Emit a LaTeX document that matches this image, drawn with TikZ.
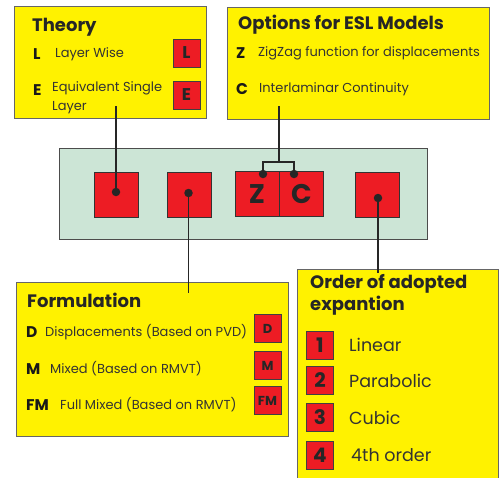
\documentclass[tikz,border=0pt]{standalone}
\usepackage{fontspec}
\setmainfont{Poppins}
\usetikzlibrary{positioning}
\definecolor{boxyellow}{HTML}{FFF200}
\definecolor{keyred}{HTML}{ED1C24}
\definecolor{panelgreen}{HTML}{CCE5D6}

\begin{document}
\begin{tikzpicture}[x=1pt,y=-1pt,
	panel/.style={rectangle,draw=black!60,line width=0.9pt,fill=boxyellow,inner sep=0pt},
	tray/.style={rectangle,draw=black!70,line width=0.9pt,fill=panelgreen,inner sep=0pt},
	key/.style={rectangle,draw=black!75,line width=0.9pt,fill=keyred,inner sep=0pt,minimum width=27pt,minimum height=28pt,text=black!85},
	slot/.style={rectangle,draw=black!80,line width=0.9pt,fill=keyred,inner sep=0pt,minimum width=44pt,minimum height=45pt,text=black!85,font=\bfseries\fontsize{27}{27}\selectfont},
	heading/.style={anchor=west,inner sep=0pt,text=black!85,font=\bfseries\fontsize{18}{22}\selectfont},
	letter/.style={anchor=west,inner sep=0pt,text=black!90,font=\bfseries\fontsize{15.5}{15.5}\selectfont},
	item/.style={anchor=west,inner sep=0pt,text=black!80,font=\fontsize{13}{19}\selectfont},
	level/.style={anchor=west,inner sep=0pt,text=black!80,font=\fontsize{17.5}{17.5}\selectfont},
	link/.style={line width=1.3pt,black!85},
	pin/.style={circle,fill=black!85,inner sep=0pt,minimum size=8.5pt}
	]
\clip (0,0) rectangle (501,477);

% the four yellow boxes
\node[panel,minimum width=192pt,minimum height=112pt](theory) at (110,62) {};
\node[panel,minimum width=262pt,minimum height=112pt](opts) at (358,63) {};
\node[panel,minimum width=272pt,minimum height=154pt](form) at (152,359) {};
\node[panel,minimum width=201pt,minimum height=220pt](order) at (397.5,379) {};

% green tray with its slots
\node[tray,minimum width=368pt,minimum height=91pt](tray) at (243,193.5) {};
\node[slot](sTh) at (116,194.5) {};
\node[slot](sFo) at (189,194.5) {};
\node[slot](sZ) at (257,194) {Z};
\node[slot](sC) at (301.5,194) {C};
\node[slot](sOr) at (377,194.5) {};

% Theory
\node[heading](thT) at (32,27) {Theory};
\node[letter](thL) at (33,54) {L};
\node[item](thLt) at (55,54) {Layer Wise};
\node[letter](thE) at (33,90) {E};
\node[item,align=left](thEt) at (52,97.5) {Equivalent Single\\Layer};
\node[key,font=\bfseries\fontsize{17}{17}\selectfont](kL) at (186.5,53) {L};
\node[key,font=\bfseries\fontsize{17}{17}\selectfont](kE) at (186.5,95) {E};

% Options for ESL models
\node[heading](opT) at (238,25) {Options for ESL Models};
\node[letter](opZ) at (236,53) {Z};
\node[item](opZt) at (258,53) {ZigZag function for displacements};
\node[letter](opC) at (236,89) {C};
\node[item](opCt) at (259,89) {Interlaminar Continuity};

% Formulation
\node[heading](foT) at (27,300) {Formulation};
\node[letter](foD) at (26,332) {D};
\node[item](foDt) at (45,332) {Displacements (Based on PVD)};
\node[letter](foM) at (26,369) {M};
\node[item](foMt) at (50,369) {Mixed (Based on RMVT)};
\node[letter](foFM) at (26,405) {FM};
\node[item](foFMt) at (60,405) {Full Mixed (Based on RMVT)};
\node[key,font=\bfseries\fontsize{13}{13}\selectfont](kD) at (267.5,328.5) {D};
\node[key,font=\bfseries\fontsize{13}{13}\selectfont](kM) at (267.5,365.5) {M};
\node[key,font=\bfseries\fontsize{13}{13}\selectfont](kFM) at (267.5,400.5) {FM};

% Order of expansion
\node[heading,align=left](orT) at (310,294.5) {Order of adopted\\expantion};
\node[key,font=\bfseries\fontsize{20}{20}\selectfont](n1) at (320,345) {1};
\node[key,font=\bfseries\fontsize{20}{20}\selectfont](n2) at (320,380.5) {2};
\node[key,font=\bfseries\fontsize{20}{20}\selectfont](n3) at (320,417.5) {3};
\node[key,font=\bfseries\fontsize{20}{20}\selectfont](n4) at (320,455) {4};
\node[level](l1) [right=15pt of n1] {Linear};
\node[level](l2) [right=15pt of n2] {Parabolic};
\node[level](l3) [right=15pt of n3] {Cubic};
\node[level](l4) [right=17pt of n4] {4th order};

% pins on the slots
\node[pin](pTh) at (116,192) {};
\node[pin](pFo) at (188.5,193) {};
\node[pin](pZ) at (263,174) {};
\node[pin](pC) at (294,174) {};
\node[pin](pOr) at (378,198) {};

\coordinate (thEnd) at (116,106);
\coordinate (opEnd) at (279,106);
\coordinate (fork) at (279,162);
\coordinate (foEnd) at (188.5,293);
\coordinate (orEnd) at (378,273);

% links
\draw[link](thEnd) -- (pTh.center);
\draw[link](opEnd) -- (fork);
\draw[link](pZ.center) |- (fork) -| (pC.center);
\draw[link](pFo.center) -- (foEnd);
\draw[link](pOr.center) -- (orEnd);
\end{tikzpicture}
\end{document}
